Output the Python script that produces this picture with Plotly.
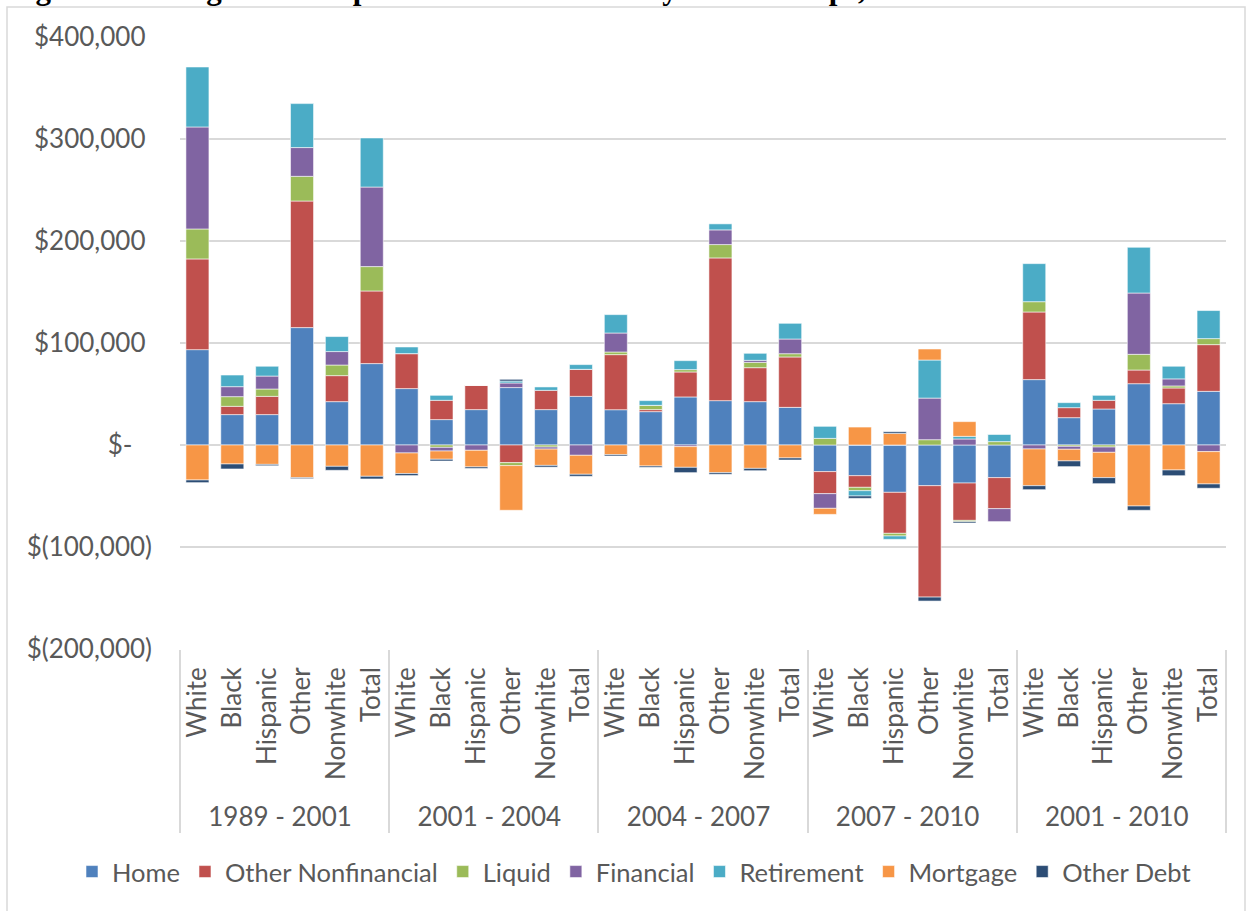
import plotly.graph_objects as go

# Periods and race groups (x axis, two levels)
periods = ["1989 - 2001", "2001 - 2004", "2004 - 2007", "2007 - 2010", "2001 - 2010"]
races = ["White", "Black", "Hispanic", "Other", "Nonwhite", "Total"]

# Change in each component, thousands of dollars, in order period x race
home = [93.5, 29.8, 29.8, 115.1, 42.5, 79.8,
        55.3, 24.9, 34.7, 56.3, 34.7, 47.7,
        34.6, 32.7, 47.1, 43.5, 42.5, 36.9,
        -26.1, -30.1, -46.4, -39.9, -37.3, -32.0,
        64.1, 26.8, 35.3, 60.1, 40.5, 52.6]
other_nonfin = [88.9, 8.1, 17.9, 124.1, 25.5, 71.2,
                34.3, 18.9, 23.8, -17.3, 18.9, 26.5,
                54.0, 2.0, 24.5, 139.9, 33.3, 49.4,
                -21.6, -11.4, -40.2, -109.2, -36.6, -30.4,
                66.3, 9.8, 8.5, 13.4, 15.4, 45.8]
liquid = [29.4, 9.5, 7.2, 24.2, 10.4, 23.9,
          0.0, -2.3, 0.0, -2.9, -2.0, 0.0,
          2.6, 4.2, 2.3, 13.1, 5.2, 3.2,
          6.5, -3.3, -2.6, 5.2, -1.3, 3.3,
          10.1, -1.3, -2.0, 15.4, 2.0, 5.9]
financial = [100.0, 9.8, 12.7, 28.2, 13.2, 78.0,
             -7.8, -3.6, -5.2, 4.5, -2.0, -10.1,
             18.6, 0.0, -1.6, 14.4, 2.0, 14.4,
             -14.4, 0.0, 0.0, 40.8, 5.9, -12.7,
             -3.9, -2.9, -5.2, 60.1, 6.9, -6.5]
retirement = [58.8, 11.4, 9.6, 43.1, 14.7, 48.1,
              6.5, 4.9, 0.0, 1.9, 3.3, 4.6,
              18.0, 4.6, 8.8, 5.9, 6.9, 15.4,
              12.1, -5.2, -3.3, 37.3, 2.6, 7.5,
              37.3, 4.9, 4.9, 44.8, 12.4, 27.5]
mortgage = [-34.3, -18.6, -19.0, -32.0, -20.9, -30.7,
            -20.2, -8.1, -16.3, -43.8, -16.0, -18.6,
            -9.5, -20.6, -20.3, -27.1, -22.9, -12.7,
            -5.9, 17.6, 11.4, 10.8, 14.4, 0.0,
            -36.0, -11.4, -24.8, -59.8, -24.5, -31.7]
other_debt = [-2.6, -4.9, -1.3, -1.0, -3.9, -2.6,
              -2.0, -1.7, -1.5, 1.7, -1.7, -2.0,
              -1.3, -1.3, -5.2, -1.6, -2.3, -2.0,
              0.0, -2.3, 1.6, -3.9, -1.3, 0.0,
              -3.9, -5.6, -5.9, -4.2, -5.6, -4.2]

y_ticks = [-200000, -100000, 0, 100000, 200000, 300000, 400000]
# Excel accounting format pads positives for the missing ")"
y_labels = ["$(200,000)", "$(100,000)", "$-\u2002\u2005", "$100,000\u2005",
            "$200,000\u2005", "$300,000\u2005", "$400,000\u2005"]

series = [
    ("Home", home, "#4F81BD"),
    ("Other Nonfinancial", other_nonfin, "#C0504D"),
    ("Liquid", liquid, "#9BBB59"),
    ("Financial", financial, "#8064A2"),
    ("Retirement", retirement, "#4BACC6"),
    ("Mortgage", mortgage, "#F79646"),
    ("Other Debt", other_debt, "#2C4D75"),
]

x_outer = [p for p in periods for r in races]
# a small leading space pushes the period labels a little lower, as in Excel
x_inner = ["\u2004" + r for p in periods for r in races]

fig = go.Figure()
for name, vals, color in series:
    fig.add_trace(go.Bar(
        x=[x_outer, x_inner],
        y=[v * 1000 for v in vals],
        name=name,
        marker_color=color,
        marker_line=dict(color="rgba(255,255,255,0.55)", width=1),
    ))

# page geometry in pixels, used for the frame, legend and title
W, H = 1252, 911
L, R, T, B = 180, 26, 37, 262
pw, ph = W - L - R, H - T - B


def px_x(px):
    return (px - L) / pw


def px_y(py):
    return (H - B - py) / ph


text_font = dict(family="Lato, Carlito, sans-serif", size=26, color="#595959")

fig.update_layout(
    width=W, height=H,
    barmode="relative",
    bargap=0.34,
    margin=dict(l=L, r=R, t=T, b=B, autoexpand=False),
    plot_bgcolor="white",
    paper_bgcolor="white",
    font=text_font,
    showlegend=True,
    legend=dict(orientation="h", x=px_x(72), xanchor="left",
                y=px_y(872), yanchor="middle",
                font=dict(family="Lato, Carlito, sans-serif", size=25.5, color="#595959"),
                traceorder="normal", itemwidth=30),
    xaxis=dict(
        type="multicategory",
        tickangle=-90,
        showgrid=False,
        showline=False,
        ticks="",
        showdividers=True,
        dividercolor="#d9d9d9",
        dividerwidth=1.5,
        tickfont=text_font,
        automargin=False,
        ticklabelstandoff=12,
    ),
    yaxis=dict(
        range=[-200000, 400000],
        tickvals=y_ticks,
        ticktext=y_labels,
        gridcolor="#d9d9d9",
        gridwidth=1.5,
        zeroline=True,
        zerolinecolor="#d9d9d9",
        zerolinewidth=1.5,
        showline=False,
        ticklabelstandoff=27,
        tickfont=text_font,
        automargin=False,
    ),
    shapes=[dict(type="rect", xref="paper", yref="paper",
                 x0=px_x(7), x1=px_x(1245), y0=px_y(920), y1=px_y(7),
                 line=dict(color="#d9d9d9", width=1.5), layer="below")],
    annotations=[dict(
        text="<b>Figure 4. Changes in Components of Net Worth by Race Groups, 1989-2010</b>",
        xref="paper", yref="paper", x=px_x(6), y=px_y(8),
        xanchor="left", yanchor="bottom", showarrow=False,
        font=dict(family="Liberation Serif, Times New Roman, serif", size=31, color="black"),
    )],
)

# page without the default body margin so the figure fills the window
fig.write_html("out.html", config={"displayModeBar": False},
               post_script="document.body.style.margin = '0';")
